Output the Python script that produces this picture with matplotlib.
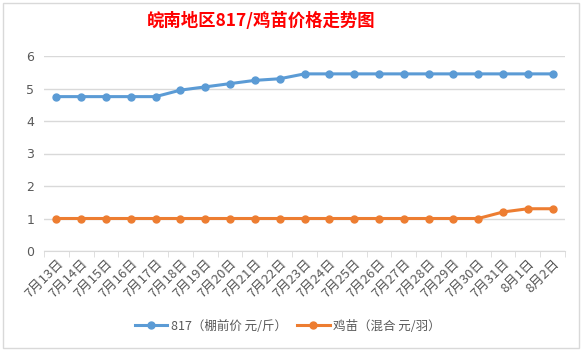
import matplotlib
matplotlib.use("Agg")
import matplotlib.pyplot as plt
from matplotlib.patches import Rectangle
import numpy as np

plt.rcParams['font.family'] = ['Noto Sans CJK SC', 'DejaVu Sans']

dates = ["7月13日", "7月14日", "7月15日", "7月16日", "7月17日", "7月18日", "7月19日",
         "7月20日", "7月21日", "7月22日", "7月23日", "7月24日", "7月25日", "7月26日",
         "7月27日", "7月28日", "7月29日", "7月30日", "7月31日", "8月1日", "8月2日"]
price_817 = [4.75, 4.75, 4.75, 4.75, 4.75, 4.95, 5.05, 5.15, 5.25, 5.3, 5.45, 5.45,
             5.45, 5.45, 5.45, 5.45, 5.45, 5.45, 5.45, 5.45, 5.45]
price_chick = [1, 1, 1, 1, 1, 1, 1, 1, 1, 1, 1, 1, 1, 1, 1, 1, 1, 1, 1.2, 1.3, 1.3]
series_names = ["817（棚前价 元/斤）", "鸡苗（混合 元/羽）"]
title = "皖南地区817/鸡苗价格走势图"
yticks = [0, 1, 2, 3, 4, 5, 6]

W, H = 582, 351
fig = plt.figure(figsize=(W / 100, H / 100), dpi=100)
fig.patch.set_facecolor("white")
fig.patches.append(Rectangle((3 / W, 1 - 348 / H), 576 / W, 345 / H,
                             transform=fig.transFigure, fill=False,
                             edgecolor="#d9d9d9", linewidth=1))

ax = fig.add_axes([44 / W, 1 - 251 / H, (565 - 44) / W, (251 - 56) / H])
x = np.arange(len(dates))
ax.plot(x, price_817, color="#5b9bd5", linewidth=2.2, marker="o", markersize=5,
        label=series_names[0], zorder=3)
ax.plot(x, price_chick, color="#ed7d31", linewidth=2.2, marker="o", markersize=5,
        label=series_names[1], zorder=3)

ax.set_xlim(-0.5, len(dates) - 0.5)
ax.set_ylim(0, 6)
ax.set_yticks(yticks)
ax.set_yticklabels([str(v) for v in yticks], color="#595959", fontsize=9,
                   family=['DejaVu Sans'])
ax.grid(axis="y", color="#d9d9d9", linewidth=1)
ax.set_axisbelow(True)
for s in ["left", "right", "top"]:
    ax.spines[s].set_visible(False)
ax.spines["bottom"].set_color("#d9d9d9")
ax.tick_params(axis="y", length=0, pad=7)

ax.set_xticks(x)
ax.set_xticklabels(dates, rotation=45, ha="right", rotation_mode="anchor",
                   color="#595959", fontsize=9.5)
ax.tick_params(axis="x", which="major", length=0, pad=4)
ax.set_xticks(np.arange(-0.5, len(dates), 1), minor=True)
ax.tick_params(axis="x", which="minor", length=4, color="#d9d9d9")

fig.text(261 / W, 1 - 21 / H, title, ha="center", va="center", color="#ff0000",
         fontsize=12.5, fontweight="bold")

fig.legend(loc="center", bbox_to_anchor=(288 / W, 1 - 326 / H), ncol=2, frameon=False,
           fontsize=9, labelcolor="#595959", handlelength=2.6, columnspacing=0.8,
           handletextpad=0.3)

fig.savefig("out.png", dpi=100)
